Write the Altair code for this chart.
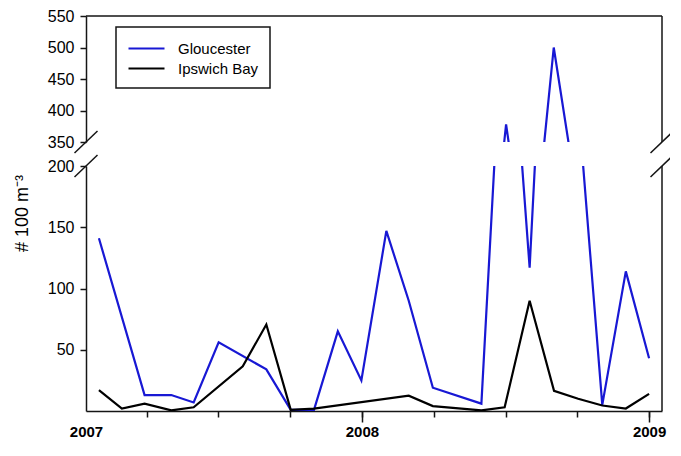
import altair as alt
import pandas as pd

# ---------------- data ----------------
series_names = ["Gloucester", "Ipswich Bay"]

gl_year = [2007.084, 2007.243, 2007.336, 2007.414, 2007.501, 2007.667, 2007.752,
           2007.833, 2007.916, 2007.998, 2008.085, 2008.163, 2008.247, 2008.416,
           2008.502, 2008.584, 2008.668, 2008.837, 2008.919, 2009.0]
gl_val = [141, 13, 13, 7, 56, 34, 1, 1, 65, 25, 147, 90, 19, 6,
          378, 117, 500, 5, 114, 43]

ib_year = [2007.084, 2007.164, 2007.243, 2007.336, 2007.414, 2007.585, 2007.667,
           2007.752, 2007.833, 2008.163, 2008.247, 2008.416, 2008.497, 2008.584,
           2008.669, 2008.753, 2008.837, 2008.919, 2009.0]
ib_val = [17, 2, 6, 0.5, 3, 36.5, 70.6, 1, 2, 12.5, 4, 0.5, 3, 90,
          16.5, 10, 4.5, 2, 14]

x_domain = [2007.039, 2009.045]
upper_domain = [350, 550]
lower_domain = [0, 200]
upper_ticks = [350, 400, 450, 500, 550]
lower_ticks = [50, 100, 150, 200]
minor_x_ticks = [2007.25, 2007.5, 2007.75, 2008, 2008.25, 2008.5, 2008.75, 2009]
major_x_ticks = [2008, 2009]
start_x_tick = [x_domain[0]]
y_title = "# 100 m\u207b\u00b3"

# ---------------- style ----------------
FONT = "Liberation Sans, Arial, sans-serif"
BLUE = "#1818d4"
INK = "#151515"
W = 576
H_UP = 126
H_LO = 245
MAJOR_TICK = 11

df = pd.concat([
    pd.DataFrame({"year": gl_year, "value": gl_val, "site": series_names[0]}),
    pd.DataFrame({"year": ib_year, "value": ib_val, "site": series_names[1]}),
], ignore_index=True)

xscale = alt.Scale(domain=x_domain, nice=False, zero=False)
up_scale = alt.Scale(domain=upper_domain, nice=False, zero=False)
lo_scale = alt.Scale(domain=lower_domain, nice=False, zero=False)
cscale = alt.Scale(domain=series_names, range=[BLUE, "black"])

axis_common = dict(domainColor=INK, tickColor=INK, domainWidth=1.5, tickWidth=1.5,
                   grid=False, labelFont=FONT, labelColor="black", title=None)

y_axis_common = dict(tickSize=6, labelPadding=6, labelFontSize=16, **axis_common)
up_y_axis = alt.Axis(values=upper_ticks, **y_axis_common)
lo_y_axis = alt.Axis(values=lower_ticks, **y_axis_common)

year_label = dict(format="d", labelFontSize=15, labelFontWeight="bold",
                  labelFlush=False, labelOverlap=False)
minor_axis = alt.Axis(values=minor_x_ticks, orient="bottom", labels=False, tickSize=6,
                      **axis_common)
major_axis = alt.Axis(values=major_x_ticks, orient="bottom", tickSize=MAJOR_TICK,
                      labelPadding=2, domain=False, **year_label, **axis_common)
start_axis = alt.Axis(values=start_x_tick, orient="bottom", ticks=False,
                      labelPadding=MAJOR_TICK + 2, domain=False, **year_label, **axis_common)

legend = alt.Legend(
    title=None, orient="none", legendX=30, legendY=11, direction="vertical",
    symbolType="M-1,0H3", symbolSize=324, symbolStrokeWidth=2.2,
    labelFont=FONT, labelFontSize=15, labelColor="black", labelOffset=30,
    padding=11, rowPadding=1, strokeColor=INK,
)

# frame / break helper data derived from the scale domains
right_df = pd.DataFrame({"x": [x_domain[1]]})
top_df = pd.DataFrame({"y": [upper_domain[1]]})
up_break_df = pd.DataFrame({"bx": x_domain, "by": [upper_domain[0]] * 2})
lo_break_df = pd.DataFrame({"bx": x_domain, "by": [lower_domain[1]] * 2})

slash = dict(xOffset=-11.5, x2Offset=11.5, yOffset=11, y2Offset=-11,
             color=INK, strokeWidth=1.5)

# ---------------- upper panel (350-550) ----------------
up_lines = alt.Chart(df).mark_line(clip=True, strokeWidth=2.2).encode(
    x=alt.X("year:Q", scale=xscale, axis=None),
    y=alt.Y("value:Q", scale=up_scale, axis=up_y_axis),
    color=alt.Color("site:N", scale=cscale, legend=legend),
)
up_top = alt.Chart(top_df).mark_rule(color=INK, strokeWidth=1.5).encode(
    y=alt.Y("y:Q", scale=up_scale, axis=up_y_axis))
up_right = alt.Chart(right_df).mark_rule(color=INK, strokeWidth=1.5).encode(
    x=alt.X("x:Q", scale=xscale, axis=None))
up_breaks = alt.Chart(up_break_df).mark_rule(**slash).encode(
    x=alt.X("bx:Q", scale=xscale, axis=None), x2="bx",
    y=alt.Y("by:Q", scale=up_scale, axis=up_y_axis), y2="by")

upper = alt.layer(up_lines, up_top, up_right, up_breaks).properties(width=W, height=H_UP)

# ---------------- lower panel (0-200) ----------------
lo_lines = alt.Chart(df).mark_line(clip=True, strokeWidth=2.2).encode(
    x=alt.X("year:Q", scale=xscale, axis=minor_axis),
    y=alt.Y("value:Q", scale=lo_scale, axis=lo_y_axis),
    color=alt.Color("site:N", scale=cscale, legend=None),
)
lo_right = alt.Chart(right_df).mark_rule(color=INK, strokeWidth=1.5).encode(
    x=alt.X("x:Q", scale=xscale, axis=major_axis))
lo_breaks = alt.Chart(lo_break_df).mark_rule(**slash).encode(
    x=alt.X("bx:Q", scale=xscale, axis=start_axis), x2="bx",
    y=alt.Y("by:Q", scale=lo_scale, axis=lo_y_axis), y2="by")

lower = alt.layer(lo_lines, lo_right, lo_breaks).resolve_axis(x="independent").properties(
    width=W, height=H_LO)

chart = alt.vconcat(upper, lower, spacing=0).resolve_scale(
    x="independent", y="independent"
).resolve_legend(color="independent").properties(
    title=alt.TitleParams(text=y_title, orient="left", anchor="middle", font=FONT,
                          fontSize=18, fontWeight="normal", color="black",
                          offset=15, dx=10),
    padding={"left": 6, "top": 0, "right": -5, "bottom": 1},
    background="white",
).configure_view(strokeWidth=0).configure_legend(strokeWidth=1.5)

chart.save("out.html", embed_options={"renderer": "svg", "actions": False})
